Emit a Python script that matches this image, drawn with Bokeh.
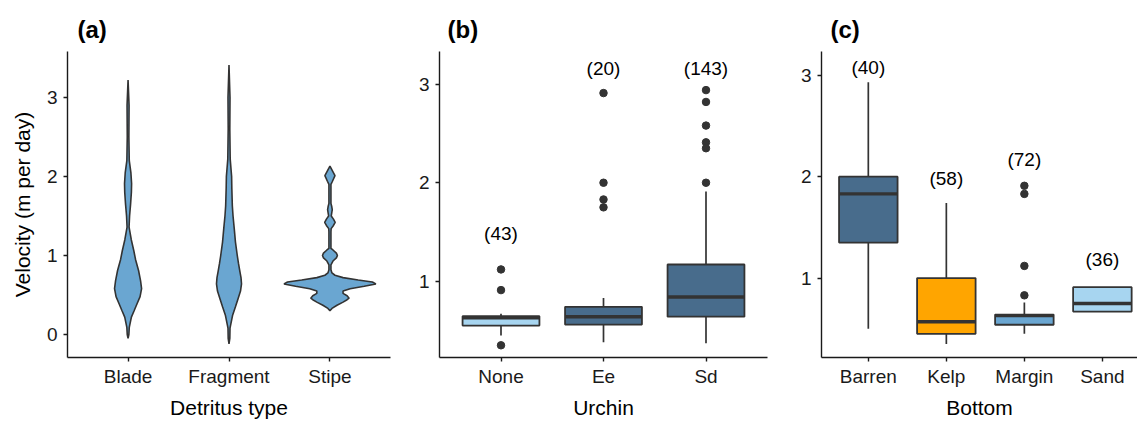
import numpy as np
from bokeh.plotting import figure
from bokeh.layouts import row
from bokeh.models import Range1d, FixedTicker, ColumnDataSource
from bokeh.embed import file_html
from bokeh.resources import INLINE
from bokeh.core.properties import value

# ---------------- data ----------------
# Panel (a): violin outlines (velocity level, half-width in category units)
detritus = ["Blade", "Fragment", "Stipe"]
blade_v = [-0.05, 0.00, 0.09, 0.22, 0.30, 0.39, 0.48, 0.58, 0.68, 0.81, 0.95, 1.06, 1.20, 1.36,
           1.50, 1.65, 1.80, 1.91, 2.05, 2.20, 2.50, 2.90, 3.22]
blade_hw = [0, .008, .012, .033, .06, .089, .119, .134, .124, .104, .074, .057, .032, .01,
            .015, .025, .033, .035, .028, .012, .008, .01, 0]
fragment_v = [-0.12, -0.05, 0.08, 0.24, 0.35, 0.45, 0.55, 0.64, 0.72, 0.79, 0.90, 1.00, 1.17,
              1.34, 1.50, 1.63, 1.85, 2.00, 2.22, 2.60, 3.00, 3.41]
fragment_hw = [0, .008, .01, .035, .064, .089, .114, .124, .119, .109, .094, .082, .064,
               .052, .04, .033, .028, .026, .012, .008, .01, 0]
stipe_v = [0.30, 0.33, 0.37, 0.41, 0.44, 0.46, 0.49, 0.52, 0.55, 0.58, 0.61, 0.64, 0.665, 0.69,
           0.72, 0.75, 0.78, 0.82, 0.88, 0.93, 0.97, 1.00, 1.03, 1.07, 1.09, 1.30, 1.34, 1.38,
           1.42, 1.46, 1.50, 1.54, 1.58, 1.62, 1.66, 1.90, 1.94, 2.01, 2.07, 2.13]
stipe_hw = [0, .02, .07, .13, .17, .19, .17, .13, .13, .2, .34, .455, .42, .28,
            .13, .05, .02, .01, .01, .03, .064, .074, .064, .03, .01, .01, .012, .035,
            .052, .035, .013, .018, .023, .018, .01, .01, .025, .05, .025, 0]

# Panel (b): urchin boxplots
urchin = ["None", "Ee", "Sd"]
b_q1 = [0.55, 0.56, 0.64]
b_med = [0.63, 0.64, 0.84]
b_q3 = [0.645, 0.74, 1.17]
b_lo = [0.45, 0.38, 0.37]
b_hi = [0.67, 0.83, 1.91]
b_out = [[1.12, 0.91, 0.35], [2.91, 2.00, 1.83, 1.75], [2.94, 2.82, 2.58, 2.41, 2.35, 2.00]]
b_n = ["(43)", "(20)", "(143)"]
b_ny = [1.48, 3.16, 3.16]

# Panel (c): bottom-type boxplots
bottom = ["Barren", "Kelp", "Margin", "Sand"]
c_q1 = [1.35, 0.45, 0.54, 0.67]
c_med = [1.83, 0.57, 0.63, 0.75]
c_q3 = [2.00, 1.00, 0.64, 0.91]
c_lo = [0.50, 0.35, 0.45, 0.67]
c_hi = [2.93, 1.74, 0.76, 0.91]
c_out = [[], [], [1.91, 1.83, 1.12, 0.83], []]
c_n = ["(40)", "(58)", "(72)", "(36)"]
c_ny = [3.08, 1.98, 2.17, 1.18]

# ---------------- style ----------------
FONT = "Liberation Sans"
DARK = "#486c8c"
MID = "#6aa6d1"
LIGHT = "#a7d5f0"
ORANGE = "#ffa500"
LINE = "#333333"
b_colors = [LIGHT, DARK, DARK]
c_colors = [DARK, ORANGE, MID, LIGHT]
H = 421
BOX_W = 0.75


def make_fig(width, xr, yr, bl, br, bb, title, toff, xlabel, yticks, cats):
    p = figure(width=width, height=H, x_range=Range1d(*xr), y_range=Range1d(*yr),
               output_backend="svg", toolbar_location=None,
               min_border_left=bl, min_border_right=br, min_border_top=51, min_border_bottom=bb)
    p.grid.visible = False
    p.outline_line_color = None
    p.background_fill_color = "white"
    p.border_fill_color = "white"
    p.title.text = title
    p.title.text_font = FONT
    p.title.text_font_size = "24px"
    p.title.text_font_style = "bold"
    p.title.text_color = "#000000"
    p.title.align = "left"
    p.title.offset = toff
    p.title.standoff = 18
    for ax in (p.xaxis[0], p.yaxis[0]):
        ax.axis_line_color = "#1a1a1a"
        ax.axis_line_width = 1.4
        ax.major_tick_line_color = "#1a1a1a"
        ax.major_tick_line_width = 1.4
        ax.major_tick_out = 4
        ax.major_tick_in = 0
        ax.minor_tick_line_color = None
        ax.major_label_text_font = FONT
        ax.major_label_text_font_size = "19px"
        ax.major_label_text_color = "#1a1a1a"
        ax.axis_label_text_font = FONT
        ax.axis_label_text_font_size = "21px"
        ax.axis_label_text_font_style = "normal"
        ax.axis_label_text_color = "#000000"
    p.xaxis.ticker = FixedTicker(ticks=list(range(1, len(cats) + 1)))
    p.xaxis.major_label_overrides = {i + 1: c for i, c in enumerate(cats)}
    p.xaxis.major_label_standoff = 4
    p.xaxis.axis_label = xlabel
    p.xaxis.axis_label_standoff = 6
    p.yaxis.ticker = FixedTicker(ticks=yticks)
    p.yaxis.major_label_standoff = 6
    return p


def add_boxes(p, q1, med, q3, lo, hi, outs, ns, nys, colors):
    x = np.arange(1, len(q1) + 1, dtype=float)
    src = ColumnDataSource(dict(x=x, x0=x - BOX_W / 2, x1=x + BOX_W / 2, q1=q1, med=med, q3=q3,
                                lo=lo, hi=hi, color=colors, n=ns, ny=nys))
    p.segment(x0="x", y0="q3", x1="x", y1="hi", source=src, line_color=LINE, line_width=1.7)
    p.segment(x0="x", y0="lo", x1="x", y1="q1", source=src, line_color=LINE, line_width=1.7)
    p.vbar(x="x", width=BOX_W, bottom="q1", top="q3", source=src, fill_color="color",
           line_color=LINE, line_width=1.8)
    p.segment(x0="x0", y0="med", x1="x1", y1="med", source=src, line_color=LINE, line_width=3.4)
    ox, oy = [], []
    for i, vals in enumerate(outs):
        for v in vals:
            ox.append(i + 1)
            oy.append(v)
    p.scatter(ox, oy, size=7.5, fill_color=LINE, line_color=LINE)
    p.text(x="x", y="ny", text="n", source=src, text_align="center", text_baseline="middle",
           text_font=value(FONT), text_font_size="19px", text_color="#000000")


# Panel (a)
pa = make_fig(400, (0.4, 3.6), (-0.291, 3.582), 67, 10, 64, "(a)", 10, "Detritus type",
              [0, 1, 2, 3], detritus)
pa.yaxis.axis_label = "Velocity (m per day)"
pa.yaxis.axis_label_standoff = 10
for i, (vv, hw) in enumerate([(blade_v, blade_hw), (fragment_v, fragment_hw), (stipe_v, stipe_hw)]):
    c = i + 1
    vv = np.array(vv)
    hw = np.array(hw)
    xs = np.concatenate([c + hw, (c - hw)[::-1]])
    ys = np.concatenate([vv, vv[::-1]])
    pa.patch(xs, ys, fill_color=MID, line_color=LINE, line_width=1.6)

# Panel (b)
pb = make_fig(390, (0.4, 3.6), (0.226, 3.332), 39, 23, 61, "(b)", 8, "Urchin", [1, 2, 3], urchin)
add_boxes(pb, b_q1, b_med, b_q3, b_lo, b_hi, b_out, b_n, b_ny, b_colors)

# Panel (c)
pc = make_fig(347, (0.4, 4.45), (0.217, 3.234), 31, 0, 60, "(c)", 9, "Bottom", [1, 2, 3], bottom)
add_boxes(pc, c_q1, c_med, c_q3, c_lo, c_hi, c_out, c_n, c_ny, c_colors)

layout = row(pa, pb, pc, spacing=0)
open("out.html", "w").write(file_html(layout, INLINE))
